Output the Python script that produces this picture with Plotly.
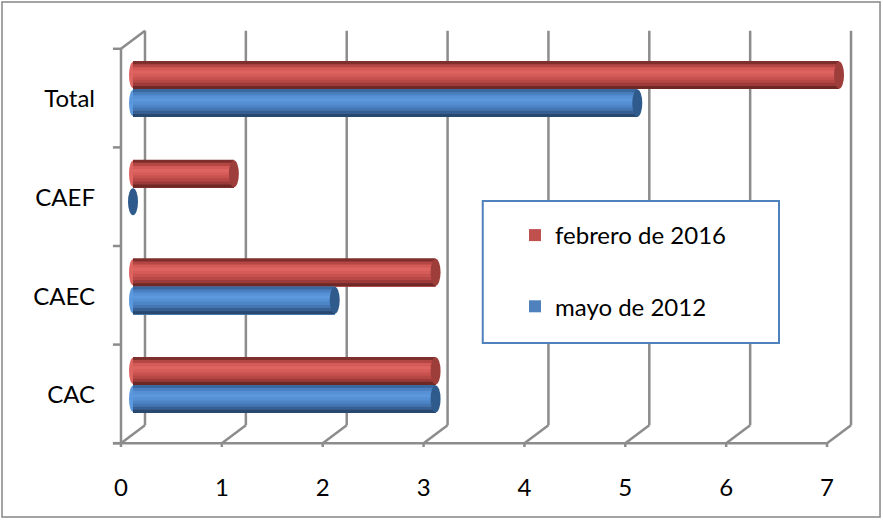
import plotly.graph_objects as go

categories = ["CAC", "CAEC", "CAEF", "Total"]
mayo_2012 = [3, 2, 0, 5]
febrero_2016 = [3, 3, 1, 7]
x_ticks = [0, 1, 2, 3, 4, 5, 6, 7]

FONT = "Lato"
GRID = "#8C8C8C"
DX = 0.119   # depth offset (x units)
DY = 0.0913  # depth offset (y units)
BAR_W = 0.284

series = [
    dict(name="febrero de 2016", vals=febrero_2016, off=0.0, rank=1,
         legend_color="#C0504D", cap="#9E3E3B",
         strips=["#7E2F2D", "#B44744", "#D45A57", "#DE6461", "#D65C59",
                 "#C8524F", "#B74845", "#9C3B39", "#6E2826"]),
    dict(name="mayo de 2012", vals=mayo_2012, off=-BAR_W, rank=2,
         legend_color="#4F81BD", cap="#2F5A8C",
         strips=["#3A679E", "#4A80C2", "#5690D5", "#5C98DD", "#5690D4",
                 "#4C84C6", "#4376B2", "#375F91", "#284870"]),
]

fig = go.Figure()
for s in series:
    n = len(s["strips"])
    sw = BAR_W / n
    bottom = s["off"]
    for j, col in enumerate(s["strips"]):
        top = s["off"] + BAR_W - j * sw
        fig.add_trace(go.Bar(
            y=categories, x=s["vals"], orientation="h",
            base=0, width=top - bottom, offset=bottom,
            marker=dict(color=col, line=dict(width=0)),
            showlegend=False, hoverinfo="skip",
        ))
    fig.add_trace(go.Bar(
        y=[categories[0]], x=[None], orientation="h", name=s["name"],
        marker=dict(color=s["legend_color"], line=dict(width=0)), legendgroup=s["name"],
        legendrank=s["rank"], showlegend=True,
    ))

shapes = []
ymin, ymax = -0.5, len(categories) - 0.5
line = dict(color=GRID, width=2.5)
for k in x_ticks:
    shapes.append(dict(type="line", xref="x", yref="y", x0=k + DX, x1=k + DX,
                       y0=ymin + DY, y1=ymax + DY, line=line, layer="below"))
    shapes.append(dict(type="line", xref="x", yref="y", x0=k - DX, x1=k + DX,
                       y0=ymin - DY, y1=ymin + DY, line=line, layer="below"))
    shapes.append(dict(type="line", xref="x", yref="y", x0=k - DX, x1=k - DX,
                       y0=ymin - DY, y1=ymin - DY - 0.085, line=line, layer="below"))
shapes.append(dict(type="line", xref="x", yref="y", x0=-DX - 0.08, x1=x_ticks[-1] - DX,
                   y0=ymin - DY, y1=ymin - DY, line=line, layer="below"))
shapes.append(dict(type="line", xref="x", yref="y", x0=-DX, x1=-DX,
                   y0=ymin - DY, y1=ymax - DY, line=line, layer="below"))
shapes.append(dict(type="line", xref="x", yref="y", x0=-DX, x1=DX,
                   y0=ymax - DY, y1=ymax + DY, line=line, layer="below"))
for i in range(len(categories) + 1):
    b = ymin + i
    shapes.append(dict(type="line", xref="x", yref="y", x0=-DX - 0.08, x1=-DX,
                       y0=b - DY, y1=b - DY, line=line, layer="below"))

for s in series:
    for ci, v in enumerate(s["vals"]):
        y0 = ci + s["off"]
        shapes.append(dict(type="circle", xref="x", yref="y", xsizemode="pixel",
                           xanchor=v, x0=-5, x1=5, y0=y0 + 0.005, y1=y0 + BAR_W - 0.005,
                           fillcolor=s["cap"], line=dict(width=0), layer="above"))
        shapes.append(dict(type="circle", xref="x", yref="y", xsizemode="pixel",
                           xanchor=0, x0=-4, x1=4, y0=y0 + 0.01, y1=y0 + BAR_W - 0.01,
                           fillcolor=s["strips"][3], line=dict(width=0), layer="below"))

shapes.append(dict(type="rect", xref="paper", yref="paper", x0=0.497, x1=0.892,
                   y0=0.2464, y1=0.583, fillcolor="white",
                   line=dict(color="#4F81BD", width=2), layer="above"))
shapes.append(dict(type="rect", xref="paper", yref="paper", x0=-0.144, x1=1.0267,
                   y0=-0.1659, y1=1.0545, line=dict(color="#868686", width=1.5),
                   layer="below"))

fig.update_layout(
    template="none",
    width=883, height=520,
    margin=dict(l=110, r=23, t=25, b=73, pad=0),
    paper_bgcolor="white", plot_bgcolor="white",
    barmode="overlay",
    font=dict(family=FONT, size=24, color="black"),
    shapes=shapes,
    showlegend=True,
    legend=dict(x=(515 - 110) / 750, xanchor="left", y=(447 - 213) / 422, yanchor="top",
                traceorder="grouped", tracegroupgap=37,
                bgcolor="rgba(0,0,0,0)", borderwidth=0,
                font=dict(family=FONT, size=24, color="black")),
    xaxis=dict(range=[-0.228, 7.208], tickvals=x_ticks, showgrid=False, zeroline=False,
               showline=False, ticks="", ticklabelshift=-12, ticklabelstandoff=24,
               automargin=False, fixedrange=True),
    yaxis=dict(type="category", categoryorder="array", categoryarray=categories,
               range=[-0.63, 3.65], showgrid=False, zeroline=False, showline=False,
               ticks="", ticklabelshift=10, ticklabelstandoff=14,
               automargin=False, fixedrange=True),
)

fig.write_html("out.html", config={"displayModeBar": False},
               post_script="document.body.style.margin='0';")
